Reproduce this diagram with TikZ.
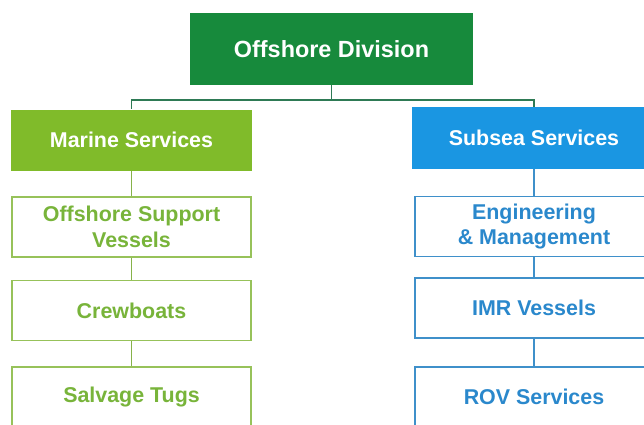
\documentclass[tikz,border=0pt]{standalone}
\usepackage{fontspec}
\setmainfont{Liberation Sans}
\usetikzlibrary{calc}
\definecolor{divgreen}{HTML}{178A3C}
\definecolor{margreen}{HTML}{80BB2A}
\definecolor{subblue}{HTML}{1A96E2}
\definecolor{marline}{HTML}{97C25A}
\definecolor{marlink}{HTML}{86B24A}
\definecolor{martext}{HTML}{78B43A}
\definecolor{subline}{HTML}{3F90CA}
\definecolor{subtext}{HTML}{2A88CC}
\definecolor{topline}{HTML}{2E7A55}
\tikzstyle{division}=[rectangle, fill=divgreen, text=white, inner sep=0pt, minimum width=283bp, minimum height=72bp, font=\fontsize{23.5}{28}\selectfont\bfseries]
\tikzstyle{marhead}=[rectangle, fill=margreen, text=white, inner sep=0pt, minimum width=240bp, minimum height=61bp, font=\fontsize{21.5}{26}\selectfont\bfseries]
\tikzstyle{subhead}=[rectangle, fill=subblue, text=white, inner sep=0pt, minimum width=244bp, minimum height=62bp, font=\fontsize{21.5}{26}\selectfont\bfseries]
\tikzstyle{marbox}=[rectangle, draw=marline, line width=1.5bp, fill=white, text=martext, align=center, inner sep=0pt, minimum width=239bp, minimum height=60bp, font=\fontsize{21.5}{26}\selectfont\bfseries]
\tikzstyle{subbox}=[rectangle, draw=subline, line width=1.5bp, fill=white, text=subtext, align=center, inner sep=0pt, minimum width=238bp, minimum height=60bp, font=\fontsize{21.5}{26}\selectfont\bfseries]
\begin{document}
\begin{tikzpicture}[x=1bp, y=-1bp]
    \useasboundingbox (0,0) rectangle (644,424);
    \clip (0,0) rectangle (644,424);
    % top of the tree
    \node[division] (div) at (331.5,49) {Offshore Division};
    \node[marhead] (mar) at (131.5,140) {Marine Services};
    \node[subhead] (sub) at (534,138) {Subsea Services};
    % marine column
    \node[marbox] (osv) at (131.5,227) {Offshore Support\\Vessels};
    \node[marbox] (crew) at (131.5,310.5) {Crewboats};
    \node[marbox] (tugs) at (131.5,397) {Salvage Tugs};
    % subsea column
    \node[subbox] (eng) at (534,226.5) {Engineering\\\& Management};
    \node[subbox] (imr) at (534,308) {IMR Vessels};
    \node[subbox] (rov) at (534,397) {ROV Services};
    % connectors
    \draw[topline, line width=1.5bp] (div.south) -- ++(0,15) coordinate (fork);
    \draw[topline, line width=1.5bp] (fork) -| (mar.north);
    \draw[topline, line width=1.5bp] (fork) -| (sub.north);
    \draw[marlink, line width=1.8bp] (mar.south) -- (osv.north);
    \draw[marlink, line width=1.8bp] (osv.south) -- (crew.north);
    \draw[marlink, line width=1.8bp] (crew.south) -- (tugs.north);
    \draw[subline, line width=1.5bp] (sub.south) -- (eng.north);
    \draw[subline, line width=1.5bp] (eng.south) -- (imr.north);
    \draw[subline, line width=1.5bp] (imr.south) -- (rov.north);
\end{tikzpicture}
\end{document}
